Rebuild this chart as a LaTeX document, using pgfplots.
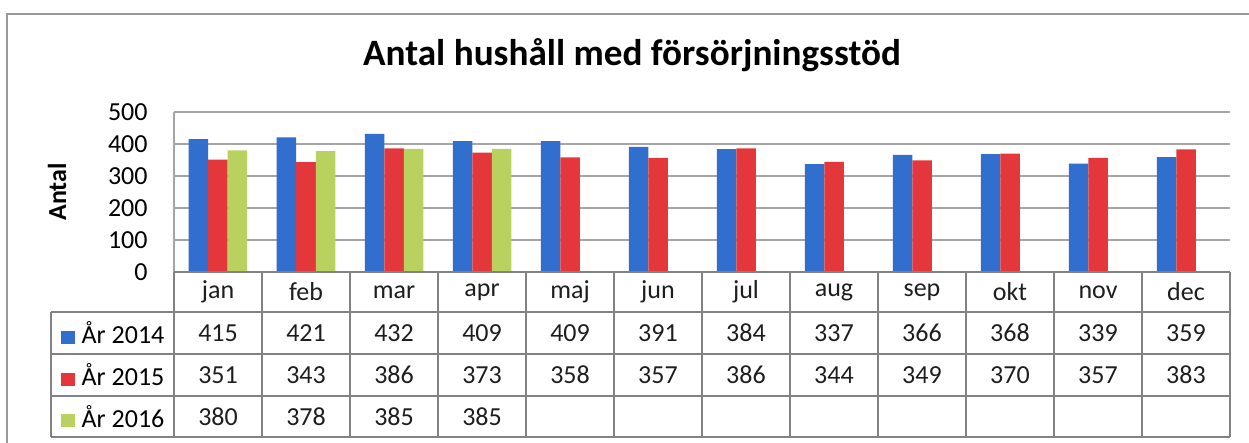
\documentclass[border=0pt]{standalone}
\usepackage{pgfplots}
\pgfplotsset{compat=1.18}
\usepackage{pgfplotstable}
\usepackage{fontspec}
\setmainfont{Carlito}

\definecolor{c14}{RGB}{50,110,205}
\definecolor{c15}{RGB}{228,55,60}
\definecolor{c16}{RGB}{185,210,95}
\definecolor{txt}{RGB}{30,30,30}
\definecolor{gridc}{RGB}{165,165,165}
\definecolor{tabc}{RGB}{130,130,130}

% months, År 2014, År 2015
\pgfplotstableread{
x m a b
0 jan 415 351
1 feb 421 343
2 mar 432 386
3 apr 409 373
4 maj 409 358
5 jun 391 357
6 jul 384 386
7 aug 337 344
8 sep 366 349
9 okt 368 370
10 nov 339 357
11 dec 359 383
}\data
% År 2016
\pgfplotstableread{
x c
0 380
1 378
2 385
3 385
}\dataC

\begin{document}
\begin{tikzpicture}[x=0.5pt, y=-0.5pt, font=\color{txt}]
\useasboundingbox (0,0) rectangle (1249,443);
\draw[gray!80, line width=1pt] (7,443) -- (7,14) -- (1249,14);
\coordinate (chartSW) at (174,272);
\coordinate (tableNW) at (51,272);

\node[anchor=base, font=\bfseries\fontsize{18.6}{20}\selectfont] at (632,66) {Antal hushåll med försörjningsstöd};
\node[rotate=90, font=\bfseries\fontsize{13}{15}\selectfont] at (57,192) {Antal};

% chart
\begin{axis}[
    at={(chartSW)}, anchor=south west,
    scale only axis, width=528pt, height=80pt,
    xmin=-0.5, xmax=11.5, ymin=0, ymax=500,
    ybar=0pt, bar width=9.75pt,
    xtick=\empty, ytick={0,100,...,500},
    ymajorgrids, grid style={gridc, line width=0.6pt},
    axis line style={draw=none}, tick style={draw=none},
    yticklabel style={inner sep=0pt, xshift=-13pt, font=\fontsize{13}{15}\selectfont},
    /pgf/number format/assume math mode=true,
    clip=false,
]
\addplot[fill=c14, draw=none] table[x=x, y=a] {\data};
\addplot[fill=c15, draw=none] table[x=x, y=b] {\data};
\addplot[fill=c16, draw=none] table[x=x, y=c] {\dataC};
\draw[gridc, line width=0.6pt] (axis cs:-0.5,0) -- (axis cs:-0.5,500);
\end{axis}

% data table
\begin{axis}[
    at={(tableNW)}, anchor=north west,
    scale only axis, width=589.5pt, height=82.5pt,
    xmin=-1.898, xmax=11.5, ymin=0, ymax=165,
    axis lines=none, clip=false,
    every node near coord/.append style={anchor=center, font=\fontsize{13}{15}\selectfont\color{txt}},
]
\pgfplotsinvokeforeach{0,41,83,125}{
  \draw[tabc, line width=0.8pt] (axis cs:-1.898,#1) -- (axis cs:11.5,#1);
}
\draw[tabc, line width=0.8pt] (axis cs:-0.5,165) -- (axis cs:11.5,165);
\draw[tabc, line width=0.8pt] (axis cs:-1.898,0) -- (axis cs:-1.898,125);
\pgfplotsinvokeforeach{-0.5,0.5,1.5,2.5,3.5,4.5,5.5,6.5,7.5,8.5,9.5,10.5,11.5}{
  \draw[tabc, line width=0.8pt] (axis cs:#1,0) -- (axis cs:#1,165);
}

\addplot[draw=none, no markers, nodes near coords, point meta=explicit symbolic] table[x=x, y expr=145, meta=m] {\data};
\addplot[draw=none, no markers, nodes near coords, point meta=explicit symbolic] table[x=x, y expr=104, meta=a] {\data};
\addplot[draw=none, no markers, nodes near coords, point meta=explicit symbolic] table[x=x, y expr=62, meta=b] {\data};
\addplot[draw=none, no markers, nodes near coords, point meta=explicit symbolic] table[x=x, y expr=20.5, meta=c] {\dataC};

\node[font=\fontsize{13}{15}\selectfont] at (axis cs:-1.199,104) {{\color{c14}\rule{7pt}{6.5pt}}\hspace{3.5pt}År 2014};
\node[font=\fontsize{13}{15}\selectfont] at (axis cs:-1.199,62) {{\color{c15}\rule{7pt}{6.5pt}}\hspace{3.5pt}År 2015};
\node[font=\fontsize{13}{15}\selectfont] at (axis cs:-1.199,20.5) {{\color{c16}\rule{7pt}{6.5pt}}\hspace{3.5pt}År 2016};
\end{axis}
\end{tikzpicture}
\end{document}
